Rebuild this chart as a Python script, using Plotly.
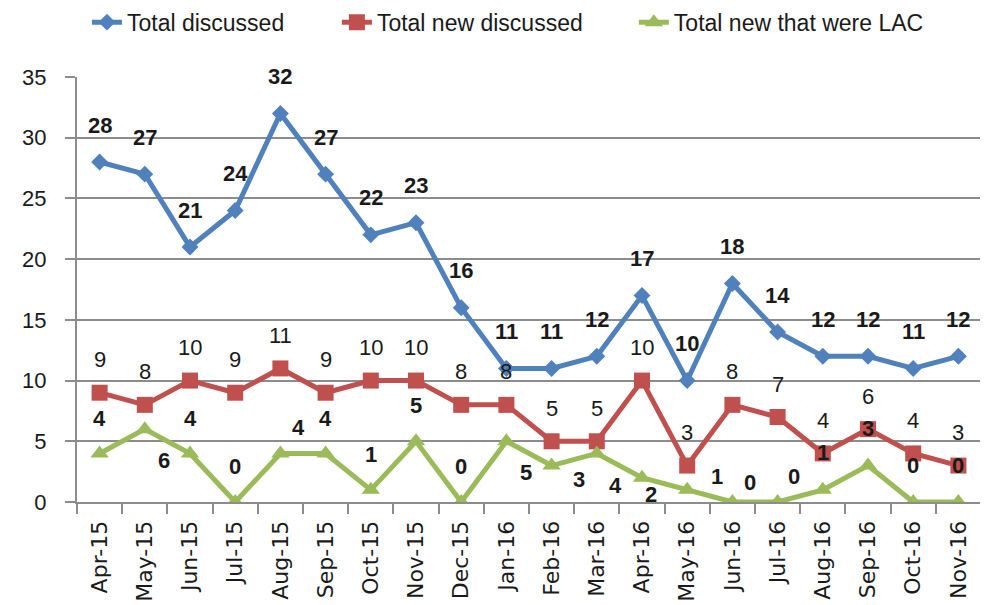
import plotly.graph_objects as go

months = [
    'Apr-15', 'May-15', 'Jun-15', 'Jul-15', 'Aug-15', 'Sep-15', 'Oct-15',
    'Nov-15', 'Dec-15', 'Jan-16', 'Feb-16', 'Mar-16', 'Apr-16', 'May-16',
    'Jun-16', 'Jul-16', 'Aug-16', 'Sep-16', 'Oct-16', 'Nov-16',
]
total_discussed = [28, 27, 21, 24, 32, 27, 22, 23, 16, 11, 11, 12, 17, 10, 18, 14, 12, 12, 11, 12]
total_new_discussed = [9, 8, 10, 9, 11, 9, 10, 10, 8, 8, 5, 5, 10, 3, 8, 7, 4, 6, 4, 3]
total_new_lac = [4, 6, 4, 0, 4, 4, 1, 5, 0, 5, 3, 4, 2, 1, 0, 0, 1, 3, 0, 0]

blue = '#4F81BD'
red = '#C0504D'
green = '#9BBB59'
grid = '#8C8C8C'
label_font = 'Liberation Sans, Arial, sans-serif'

# label offsets (px) for the green series, which Excel scattered around
green_shift = [
    (0, 35), (19, -31), (0, 35), (0, 36), (18, 26), (0, 35), (0, 35),
    (0, 36), (0, 36), (20, -31), (27, -14), (19, -32), (9, -17), (30, 13),
    (18, 20), (16, 26), (0, 37), (0, 37), (0, 37), (0, 37),
]

fig = go.Figure()
fig.add_trace(go.Scatter(
    x=months, y=total_discussed, name='Total discussed', mode='lines+markers',
    line=dict(color=blue, width=5), legend='legend',
    marker=dict(symbol='diamond', size=13, color=blue),
))
fig.add_trace(go.Scatter(
    x=months, y=total_new_discussed, name='Total new discussed', mode='lines+markers',
    line=dict(color=red, width=5), legend='legend2',
    marker=dict(symbol='square', size=16, color=red),
))
fig.add_trace(go.Scatter(
    x=months, y=total_new_lac, name='Total new that were LAC', mode='lines+markers',
    line=dict(color=green, width=5), legend='legend3',
    marker=dict(symbol='triangle-up', size=16, color=green),
))

annotations = []
for m, v in zip(months, total_discussed):
    annotations.append(dict(
        x=m, y=v, text=f'<b>{v}</b>', showarrow=False, yshift=37,
        font=dict(family=label_font, size=22, color='#1a1a1a'),
    ))
for m, v in zip(months, total_new_discussed):
    annotations.append(dict(
        x=m, y=v, text=str(v), showarrow=False, yshift=33,
        font=dict(family=label_font, size=22, color='#1a1a1a'),
    ))
for m, v, (dx, dy) in zip(months, total_new_lac, green_shift):
    annotations.append(dict(
        x=m, y=v, text=f'<b>{v}</b>', showarrow=False, xshift=dx, yshift=dy,
        font=dict(family=label_font, size=22, color='#1a1a1a'),
    ))

legend_style = dict(
    orientation='h', xanchor='left', y=1.129, yanchor='middle',
    font=dict(family=label_font, size=23, color='#1a1a1a'),
)

fig.update_layout(
    width=988,
    height=605,
    paper_bgcolor='white',
    plot_bgcolor='white',
    margin=dict(l=69, r=15, t=69, b=111, autoexpand=False),
    showlegend=True,
    legend=dict(x=0.011, **legend_style),
    legend2=dict(x=0.2875, **legend_style),
    legend3=dict(x=0.616, **legend_style),
    annotations=annotations,
)
fig.update_xaxes(
    type='category', range=[-0.5, 19.5], tickson='boundaries',
    ticks='outside', ticklen=10, ticklabelstandoff=8,
    tickcolor=grid, tickwidth=2, tickangle=-90, automargin=False,
    showline=True, linecolor=grid, linewidth=2, showgrid=False,
    tickfont=dict(family='DejaVu Sans, Verdana, sans-serif', size=22, color='#1a1a1a'),
)
fig.update_yaxes(
    range=[0, 35], dtick=5, ticks='outside', ticklen=10, automargin=False,
    ticklabelstandoff=14,
    tickcolor=grid, tickwidth=2,
    showline=True, linecolor=grid, linewidth=2,
    showgrid=True, gridcolor=grid, gridwidth=2, zeroline=False,
    tickfont=dict(family=label_font, size=22, color='#1a1a1a'),
)

fig.write_html('out.html')
